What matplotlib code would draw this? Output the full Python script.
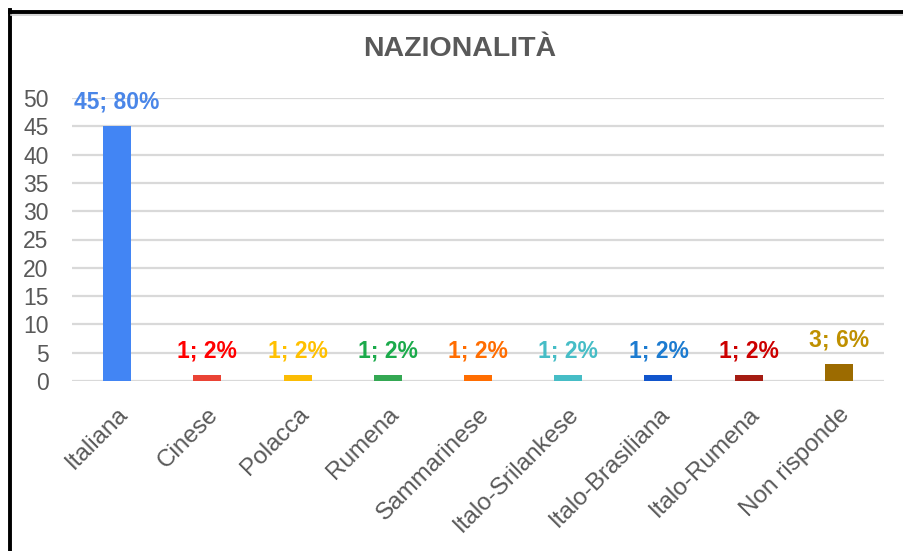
import matplotlib
matplotlib.use("Agg")
import matplotlib.pyplot as plt
from matplotlib.lines import Line2D

categories = ["Italiana", "Cinese", "Polacca", "Rumena", "Sammarinese",
              "Italo-Srilankese", "Italo-Brasiliana", "Italo-Rumena", "Non risponde"]
values = [45, 1, 1, 1, 1, 1, 1, 1, 3]
percents = [80, 2, 2, 2, 2, 2, 2, 2, 6]
bar_colors = ["#4285F4", "#EA4335", "#FBBC04", "#34A853", "#FF6D01",
              "#46BDC6", "#1155CC", "#A51C12", "#9C6B00"]
label_colors = ["#4A86E8", "#FF0000", "#FFC000", "#1BAA4B", "#FF6D01",
                "#46BDC6", "#1C7BD0", "#CC0000", "#BF9000"]
yticks = [0, 5, 10, 15, 20, 25, 30, 35, 40, 45, 50]

plt.rcParams['font.family'] = ['Liberation Sans', 'DejaVu Sans']

W, H = 904, 551
fig = plt.figure(figsize=(W / 100, H / 100), dpi=100)
ax = fig.add_axes([72 / W, (H - 381) / H, (884 - 72) / W, (381 - 98) / H])

x = list(range(len(categories)))
ax.bar(x, values, width=0.31, color=bar_colors, zorder=3)
for xi, v, p, c in zip(x, values, percents, label_colors):
    ax.annotate(f"{v}; {p}%", (xi, v), xytext=(0, 9), textcoords="offset points",
                ha="center", va="bottom", fontsize=16.5, fontweight="bold",
                color=c, zorder=4, annotation_clip=False)

ax.set_xlim(-0.5, len(categories) - 0.5)
ax.set_ylim(0, 50)
ax.set_yticks(yticks)
ax.yaxis.grid(True, color="#D9D9D9", linewidth=1.6, zorder=0)
ax.set_axisbelow(True)
for s in ax.spines.values():
    s.set_visible(False)
ax.tick_params(axis="y", length=0, labelsize=16.5, labelcolor="#595959", pad=17)
ax.set_xticks(x)
ax.set_xticklabels(categories, rotation=45, ha="right", rotation_mode="anchor")
ax.tick_params(axis="x", length=0, labelsize=17.5, labelcolor="#595959", pad=16)

fig.text(460 / W, 1 - 49 / H, "NAZIONALITÀ", ha="center", va="center",
         fontsize=20.5, fontweight="bold", color="#595959")

# outer frame (left and top borders)
fig.add_artist(Line2D([9.5 / W, 9.5 / W], [0, 1 - 9.5 / H], color="black",
                      linewidth=2.8, transform=fig.transFigure, solid_capstyle="projecting"))
fig.add_artist(Line2D([9.5 / W, 1], [1 - 11.5 / H, 1 - 11.5 / H], color="black",
                      linewidth=2.8, transform=fig.transFigure, solid_capstyle="projecting"))
fig.add_artist(Line2D([11 / W, 1], [1 - 14.5 / H, 1 - 14.5 / H], color="#CFCFCF",
                      linewidth=1.2, transform=fig.transFigure))

fig.savefig("out.png", dpi=100)
